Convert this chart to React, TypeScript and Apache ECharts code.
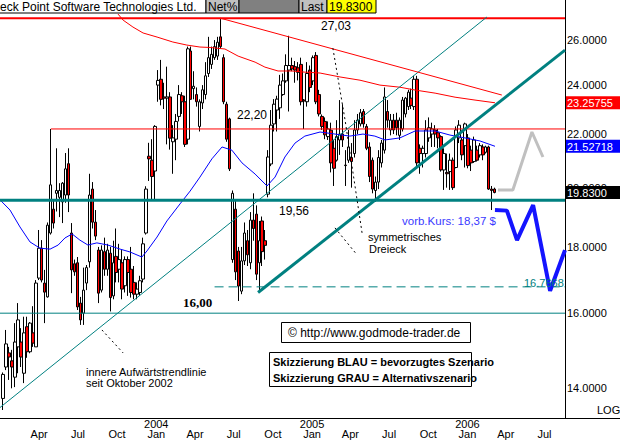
import React, { useEffect, useRef } from 'react';
import * as echarts from 'echarts';

const FONT = '"Liberation Sans", Arial, sans-serif';
const START_UTC = Date.UTC(2003, 0, 6);
const WEEK_MS = 7 * 24 * 3600 * 1000;
const X_MIN = -1.007;
const X_MAX = 188.6;
const Y_MIN = 13.28;
const Y_MAX = 27.92;

// weekly candles [open, high, low, close]
const ohlc: number[][] = [
  [13.75, 14.4, 13.47, 14.35], [14.54, 15.53, 14.46, 15.15], [14.91, 15.07, 14.21, 14.8], [14.7, 14.99, 14.0, 14.54],
  [14.28, 15.72, 14.03, 15.2], [15.07, 16.29, 14.38, 15.81], [15.2, 15.58, 14.54, 14.8], [14.38, 15.9, 14.13, 15.45],
  [15.62, 15.9, 14.78, 14.94], [14.94, 15.75, 14.9, 15.72], [15.45, 16.2, 15.07, 15.17], [15.07, 16.97, 15.07, 16.88],
  [17.03, 18.55, 16.97, 17.96], [17.96, 18.22, 16.9, 16.97], [16.88, 17.28, 15.72, 16.61], [16.47, 18.8, 16.45, 18.71],
  [18.45, 22.2, 18.4, 20.1], [19.25, 19.57, 18.6, 18.78], [19.8, 21.45, 19.17, 19.9], [19.66, 20.16, 18.98, 19.9],
  [19.5, 20.2, 18.78, 20.16], [19.74, 21.27, 19.47, 20.68], [20.87, 21.45, 19.15, 19.74], [18.45, 18.78, 16.58, 17.28],
  [17.47, 17.6, 17.1, 17.22], [17.5, 17.68, 16.09, 16.18], [16.29, 16.47, 15.67, 15.81], [16.0, 17.35, 15.67, 16.67],
  [16.88, 17.43, 16.67, 17.35], [17.53, 20.5, 17.35, 19.74], [19.95, 20.2, 18.6, 18.81], [18.81, 19.22, 18.22, 18.35],
  [17.9, 18.0, 16.29, 16.58], [16.67, 18.05, 16.6, 17.9], [17.85, 18.3, 17.1, 17.3], [17.3, 18.1, 17.1, 17.9],
  [17.8, 18.0, 16.05, 16.45], [16.5, 18.2, 16.4, 17.5], [17.7, 18.6, 16.9, 17.2], [17.3, 18.1, 16.9, 17.6],
  [17.5, 17.9, 16.4, 16.7], [16.8, 17.7, 16.6, 17.6], [17.6, 17.7, 16.5, 17.2], [17.3, 18.0, 16.45, 16.6],
  [16.9, 17.4, 16.4, 16.55], [16.55, 16.9, 16.4, 16.7], [16.6, 17.1, 16.5, 16.95], [17.0, 18.3, 16.9, 18.1],
  [18.45, 20.05, 18.4, 19.95], [21.15, 21.66, 20.24, 21.05], [21.0, 21.8, 19.55, 20.4], [20.6, 22.35, 19.55, 22.3],
  [24.0, 24.65, 23.3, 24.2], [24.25, 25.1, 23.15, 23.4], [23.5, 24.1, 23.0, 23.45], [23.45, 24.8, 21.6, 23.5],
  [23.5, 23.7, 21.4, 21.84], [21.7, 22.35, 20.5, 21.85], [21.8, 22.8, 21.0, 22.5], [22.7, 24.0, 22.5, 23.6],
  [23.55, 23.7, 22.8, 23.3], [23.3, 23.55, 21.5, 21.6], [21.8, 25.7, 21.6, 25.6], [25.5, 25.7, 23.4, 23.4],
  [23.85, 24.6, 23.4, 23.95], [23.6, 23.9, 23.1, 23.3], [22.3, 23.4, 22.1, 23.3], [23.25, 24.0, 23.0, 23.8],
  [23.6, 25.0, 23.4, 24.4], [24.5, 26.15, 24.35, 25.2], [24.9, 25.7, 24.7, 25.35], [25.2, 26.0, 25.1, 25.7],
  [25.27, 26.15, 25.1, 25.9], [26.15, 27.03, 25.6, 25.7], [25.2, 25.35, 23.2, 23.3], [23.2, 23.3, 21.7, 21.8],
  [22.6, 22.65, 20.6, 20.68], [17.6, 19.9, 17.5, 19.8], [19.25, 19.57, 16.97, 17.22], [17.87, 18.0, 16.35, 16.79],
  [16.64, 18.0, 16.55, 17.56], [17.56, 18.8, 17.43, 18.45], [18.2, 18.55, 17.4, 17.75], [17.5, 19.15, 17.3, 18.88],
  [18.88, 19.8, 18.2, 18.6], [19.08, 19.38, 16.97, 17.15], [17.5, 18.85, 16.62, 18.2], [18.85, 19.0, 17.4, 17.85],
  [18.2, 18.55, 17.6, 18.05], [19.77, 21.38, 19.66, 21.12], [20.86, 22.96, 20.78, 22.35], [22.4, 23.41, 22.1, 23.2],
  [22.96, 23.55, 22.1, 23.41], [23.05, 24.44, 22.6, 24.0], [23.6, 24.5, 23.55, 24.18], [24.18, 25.35, 24.1, 24.85],
  [24.65, 26.2, 22.9, 24.85], [24.85, 25.2, 24.6, 24.7], [24.8, 25.05, 24.1, 24.65], [24.75, 25.0, 24.2, 24.55],
  [24.9, 25.2, 23.15, 23.3], [23.37, 23.41, 22.2, 23.33], [23.3, 25.0, 23.1, 24.5], [24.65, 24.85, 23.7, 23.9],
  [24.18, 25.3, 24.0, 25.2], [25.3, 25.45, 23.2, 23.3], [23.6, 23.8, 22.7, 22.8], [22.7, 22.78, 22.16, 22.3],
  [22.5, 22.66, 21.8, 21.97], [21.9, 22.5, 21.77, 22.2], [22.15, 22.45, 20.55, 20.9], [21.45, 21.77, 20.06, 20.7],
  [21.0, 22.55, 20.95, 21.9], [21.77, 23.37, 21.2, 22.0], [22.0, 23.2, 21.5, 21.77], [20.8, 21.38, 20.06, 20.82],
  [21.0, 22.16, 20.9, 21.5], [21.1, 21.65, 20.0, 20.95], [21.25, 22.55, 21.1, 22.16], [22.16, 22.8, 22.0, 22.55],
  [22.4, 23.0, 22.3, 22.85], [22.9, 23.0, 22.25, 22.4], [22.3, 22.4, 21.38, 21.45], [21.5, 21.68, 20.2, 20.4],
  [21.0, 21.1, 19.8, 19.95], [19.9, 20.4, 19.5, 20.2], [20.2, 21.38, 19.95, 21.1], [20.9, 21.77, 20.73, 21.65],
  [21.38, 23.9, 21.25, 23.5], [22.9, 23.37, 22.25, 22.55], [22.16, 22.8, 21.95, 22.55], [22.55, 22.8, 22.0, 22.16],
  [22.55, 22.85, 21.95, 22.25], [21.95, 22.66, 21.77, 22.55], [22.2, 23.5, 22.1, 23.37], [22.8, 23.5, 22.66, 23.45],
  [23.1, 23.8, 22.96, 23.7], [23.45, 23.85, 23.0, 23.15], [23.1, 24.4, 22.96, 24.25], [24.25, 24.4, 20.73, 20.9],
  [21.45, 21.6, 20.5, 21.25], [21.25, 21.55, 20.73, 21.45], [21.25, 22.55, 21.1, 22.16], [21.85, 22.66, 21.7, 22.25],
  [22.0, 22.45, 21.5, 22.2], [22.16, 22.35, 21.5, 22.0], [22.05, 22.2, 21.45, 21.85], [21.9, 21.95, 20.58, 20.64],
  [20.64, 21.45, 19.92, 21.25], [20.55, 21.25, 20.0, 20.5], [20.58, 21.25, 19.92, 21.0], [21.0, 21.1, 19.92, 20.0],
  [20.73, 22.3, 20.7, 22.16], [21.85, 22.55, 21.65, 22.35], [21.77, 21.85, 21.0, 21.2], [21.55, 22.45, 20.73, 22.4],
  [21.85, 22.0, 20.7, 20.8], [21.38, 21.55, 20.6, 20.9], [20.95, 21.9, 20.9, 21.77], [21.38, 21.55, 20.95, 21.0],
  [21.2, 21.65, 21.1, 21.55], [21.5, 21.6, 21.0, 21.2], [21.3, 21.55, 21.25, 21.5], [21.5, 21.55, 19.92, 19.95],
  [19.95, 20.06, 19.22, 19.9], [19.95, 20.0, 19.8, 19.83],
];

// moving averages [week index, value]
const blueMA: number[][] = [
  [-1.0, 19.57], [2.35, 19.22], [5.7, 18.65], [9.06, 18.16], [12.4, 17.96], [15.8, 17.93], [18.5, 18.06],
  [20.8, 18.29], [23.2, 18.42], [25.8, 18.22], [28.5, 18.06], [31.5, 18.13], [35.2, 18.06], [39.3, 17.93],
  [42.6, 17.84], [46.6, 17.68], [48.3, 17.87], [51.7, 18.32], [55.0, 18.85], [59.4, 19.43], [62.8, 19.88],
  [66.1, 20.38], [70.1, 21.05], [73.5, 21.5], [76.8, 21.38], [80.2, 20.9], [84.6, 20.49], [88.6, 20.06],
  [91.3, 20.38], [94.6, 21.12], [98.0, 21.65], [101.3, 21.92], [106.4, 22.08], [111.4, 22.0], [116.4, 21.92],
  [120.8, 22.0], [124.8, 21.92], [128.2, 21.77], [133.2, 21.85], [138.3, 22.12], [145.0, 22.12], [150.0, 21.96],
  [155.0, 21.85], [160.1, 21.73], [165.1, 21.52718],
];
const redMA: number[][] = [
  [38.6, 27.23], [40.3, 26.94], [43.6, 26.61], [47.0, 26.33], [51.7, 26.14], [57.0, 25.91], [61.7, 25.77],
  [66.1, 25.68], [69.5, 25.66], [74.5, 25.59], [78.9, 25.27], [84.6, 25.0], [87.9, 24.78], [92.3, 24.61],
  [97.0, 24.61], [101.3, 24.56], [106.4, 24.52], [113.1, 24.35], [119.8, 24.21], [126.5, 24.0], [133.2, 23.91],
  [138.3, 23.79], [145.0, 23.66], [151.7, 23.49], [158.4, 23.37], [165.1, 23.25755],
];

const yTicks = [14, 16, 18, 20, 22, 24, 26];
const monthTicks: number[][] = [
  [2003, 3], [2003, 6], [2003, 9], [2004, 0], [2004, 3], [2004, 6], [2004, 9],
  [2005, 0], [2005, 3], [2005, 6], [2005, 9], [2006, 0], [2006, 3], [2006, 6],
];
const yearTicks = [2004, 2005, 2006];
const monthNames = ['Jan', 'Feb', 'Mar', 'Apr', 'May', 'Jun', 'Jul', 'Aug', 'Sep', 'Oct', 'Nov', 'Dec'];

// levels and drawn lines
const resistance = 27.03;
const level2220 = 22.2;
const support1956 = 19.56;
const level1600 = 16.0;
const target = 16.7668;
const lastPrice = 19.83;
const redMALast = 23.25755;
const blueMALast = 21.52718;
const innerTrend = [[-1.0, 13.53], [162.4, 27.09]];
const triangleLower = [[85.6, 16.6], [188.6, 25.54]];
const triangleUpper = [[73, 27.03], [167.4, 23.58]];
const bluePath = [[165.1, 19.22], [169.1, 19.2], [172.5, 18.22], [177.9, 19.39], [183.6, 16.65], [188.6, 17.9]];
const grayPath = [[166.1, 19.92], [171.1, 19.92], [177.5, 22.08], [181.2, 21.12]];
const dotted1 = [[110.7, 25.63], [114.8, 22.55], [120.5, 18.45]];
const dotted2 = [[111.4, 18.62], [118.8, 17.75]];
const dotted3 = [[33.2, 15.53], [40.3, 14.91]];

function line(data: number[][], color: string, width: number, type: any = 'solid', z = 4) {
  return {
    type: 'line', data, symbol: 'none', silent: true, z,
    lineStyle: { color, width, type, cap: 'butt' },
  };
}

function txt(text: string, x: number, y: number, size: number, fill = '#000', extra: any = {}) {
  return {
    type: 'text', x, y, z: 50,
    style: { text, fill, fontSize: size, fontFamily: FONT, align: 'left', verticalAlign: 'middle', ...extra },
  };
}
function box(x: number, y: number, w: number, h: number, fill: string, stroke: any = '#000') {
  return { type: 'rect', z: 49, shape: { x, y, width: w, height: h }, style: { fill, stroke, lineWidth: 1 } };
}

const toWeek = (y: number, m: number) => (Date.UTC(y, m, 1) - START_UTC) / WEEK_MS;

export default function App() {
  const ref = useRef<HTMLDivElement>(null);
  useEffect(() => {
    if (!ref.current) return;
    const chart = echarts.init(ref.current, null, { renderer: 'svg' });
    const monthWeeks = monthTicks.map(([y, m]) => toWeek(y, m));
    const yearWeeks = yearTicks.map((y) => toWeek(y, 0));
    const weekToDate = (v: number) => new Date(START_UTC + v * WEEK_MS + 12 * 3600000);
    const baseX = {
      type: 'value', min: X_MIN, max: X_MAX, position: 'bottom',
      axisTick: { show: false }, splitLine: { show: false },
    };
    chart.setOption({
      animation: false,
      grid: { left: 0, right: 55, top: 0, bottom: 22, containLabel: false },
      xAxis: [
        {
          ...baseX,
          axisLine: { onZero: false, lineStyle: { color: '#000', width: 1 } },
          axisLabel: {
            customValues: monthWeeks, margin: 11, color: '#000', fontFamily: FONT, fontSize: 11, lineHeight: 10,
            formatter: (v: number) => monthNames[weekToDate(v).getUTCMonth()],
          },
        },
        {
          ...baseX,
          axisLine: { show: false, onZero: false },
          axisLabel: {
            customValues: yearWeeks, margin: 1, color: '#000', fontFamily: FONT, fontSize: 11, lineHeight: 10,
            formatter: (v: number) => String(weekToDate(v).getUTCFullYear()),
          },
        },
      ],
      yAxis: {
        type: 'log', logBase: 10, min: Y_MIN, max: Y_MAX, position: 'right',
        axisLine: { show: true, onZero: false, lineStyle: { color: '#000', width: 1 } },
        axisTick: { show: false }, splitLine: { show: false },
        axisLabel: {
          customValues: yTicks, margin: 2, color: '#000', fontFamily: FONT, fontSize: 11, align: 'left',
          formatter: (v: number) => Number(v).toFixed(4),
        },
      },
      series: [
        {
          type: 'candlestick', z: 2,
          data: ohlc.map((d, i) => [i, d[0], d[3], d[2], d[1]]),
          encode: { x: 0, y: [1, 2, 3, 4] },
          barWidth: 3,
          itemStyle: { color: '#ffffff', color0: '#ff0000', borderColor: '#000', borderColor0: '#000', borderWidth: 1 },
        },
        line(blueMA, '#0000ff', 1, 'solid', 3),
        line(redMA, '#ff0000', 1, 'solid', 3),
        line([[X_MIN, resistance], [X_MAX, resistance]], '#ff0000', 2),
        line([[16.1, level2220], [X_MAX, level2220]], '#ff0000', 1),
        line([[X_MIN, support1956], [X_MAX, support1956]], '#008080', 3),
        line([[X_MIN, level1600], [X_MAX, level1600]], '#008080', 1),
        line([[71, target], [X_MAX, target]], '#008080', 1, [9, 5]),
        line(innerTrend, '#008080', 1),
        line(triangleLower, '#008080', 3),
        line(triangleUpper, '#ff0000', 1),
        line(dotted1, '#000', 1, [2, 3]),
        line(dotted2, '#000', 1, [2, 3]),
        line(dotted3, '#000', 1, [2, 3]),
        line(grayPath, '#c0c0c0', 3, 'solid', 6),
        line(bluePath, '#1414ff', 4, 'solid', 7),
      ],
    });

    const tag = (value: number, bg: string, text: string) => {
      const p = chart.convertToPixel({ xAxisIndex: 0, yAxisIndex: 0 }, [X_MAX, value]) as number[];
      const py = p[1];
      return [
        { type: 'rect', z: 60, shape: { x: 566, y: py - 6.5, width: 54, height: 13 }, style: { fill: bg } },
        { type: 'text', z: 61, x: 567, y: py + 0.5, style: { text, fill: '#fff', fontSize: 11, fontFamily: FONT, align: 'left', verticalAlign: 'middle' } },
      ];
    };

    const graphics: any[] = [
      // title bar
      box(-1, -1, 207, 14, '#ffffff'),
      txt('eck Point Software Technologies Ltd.', 0, 6.5, 12),
      box(206, -1, 33, 14, '#c0c0c0'),
      txt('Net%', 208, 6.5, 12),
      box(239, -1, 60, 14, '#808080'),
      box(299, -1, 28, 14, '#c0c0c0'),
      txt('Last', 301, 6.5, 12),
      box(327, -1, 49, 14, '#ffff00'),
      txt(String(lastPrice.toFixed(4)), 329, 6.5, 12),
      // annotations
      txt('27,03', 321, 26, 12),
      txt('22,20', 237, 115, 12),
      txt('19,56', 279, 211, 12),
      txt('16,00', 183, 302, 13, '#000', { fontFamily: '"Liberation Serif", serif', fontWeight: 'bold' }),
      txt('vorb.Kurs: 18,37 $', 402, 221, 11.5, '#3a3aff'),
      txt('symmetrisches', 368, 237, 11),
      txt('Dreieck', 369, 249, 11),
      txt('innere Aufwärtstrendlinie', 86, 372, 11),
      txt('seit Oktober 2002', 86, 383, 11),
      txt(target.toFixed(4), 524, 283, 11, '#008080'),
      box(281.5, 322.5, 189, 20, '#ffffff'),
      txt('© http://www.godmode-trader.de', 288, 333, 12),
      box(269.5, 352.5, 202, 34, '#ffffff'),
      txt('Skizzierung BLAU = bevorzugtes Szenario', 273, 362, 11, '#000', { fontWeight: 'bold' }),
      txt('Skizzierung GRAU = Alternativszenario', 273, 378, 11, '#000', { fontWeight: 'bold' }),
      txt('LOG', 597, 410, 11),
      { type: 'line', z: 40, shape: { x1: 565, y1: 418.5, x2: 620, y2: 418.5 }, style: { stroke: '#000', lineWidth: 1 } },
      ...tag(redMALast, '#ff0000', redMALast.toFixed(5)),
      ...tag(blueMALast, '#0000ff', blueMALast.toFixed(5)),
      ...tag(lastPrice, '#000000', lastPrice.toFixed(4)),
    ];
    chart.setOption({ graphic: graphics });
    return () => chart.dispose();
  }, []);
  return <div ref={ref} style={{ position: 'fixed', left: 0, top: 0, width: 620, height: 440, background: '#fff' }} />;
}
